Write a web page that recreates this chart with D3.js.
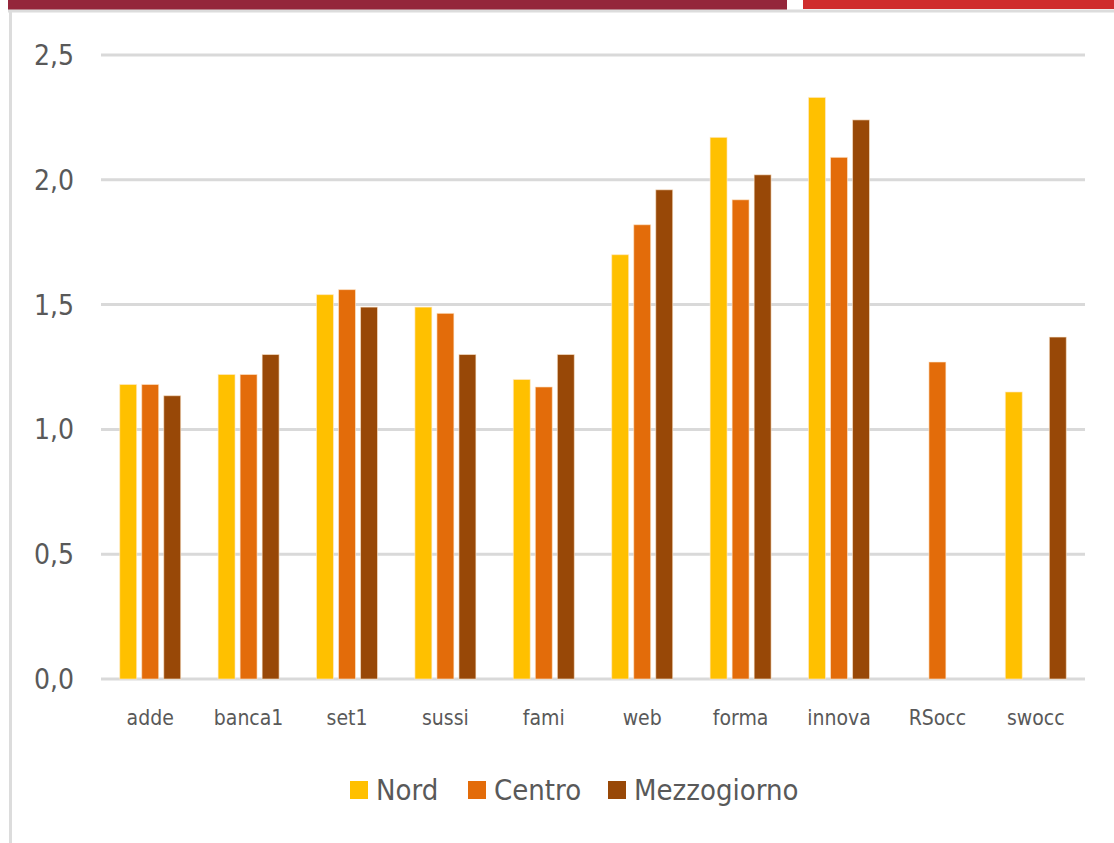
<!DOCTYPE html>
<html>
<head>
<meta charset="utf-8">
<script src="https://cdn.jsdelivr.net/npm/d3@7"></script>
<style>
  body { margin: 0; background: #fff; }
  svg text { font-family: "Liberation Sans Narrow", "DejaVu Sans Condensed", sans-serif; fill: #595959; }
</style>
</head>
<body>
<svg id="chart" width="1114" height="843"></svg>
<script>
const categories = ["adde", "banca1", "set1", "sussi", "fami", "web", "forma", "innova", "RSocc", "swocc"];
const series = ["Nord", "Centro", "Mezzogiorno"];
const nord = [1.18, 1.22, 1.54, 1.49, 1.20, 1.70, 2.17, 2.33, null, 1.15];
const centro = [1.18, 1.22, 1.56, 1.465, 1.17, 1.82, 1.92, 2.09, 1.27, null];
const mezzogiorno = [1.135, 1.30, 1.49, 1.30, 1.30, 1.96, 2.02, 2.24, null, 1.37];
const yTicks = [0, 0.5, 1.0, 1.5, 2.0, 2.5];
const colors = ["#FFC000", "#E36C0A", "#984807"];

const values = { "Nord": nord, "Centro": centro, "Mezzogiorno": mezzogiorno };
const data = [];
categories.forEach((c, i) => {
  series.forEach(s => {
    if (values[s][i] != null) data.push({ cat: c, series: s, value: values[s][i] });
  });
});

const svg = d3.select("#chart");

// page decoration: top bands and frame
svg.append("rect").attr("x", 8).attr("y", 0).attr("width", 779).attr("height", 10).attr("fill", "#94263B");
svg.append("rect").attr("x", 803).attr("y", 0).attr("width", 311).attr("height", 9).attr("fill", "#CF2D2D");
svg.append("line").attr("x1", 8).attr("x2", 1114).attr("y1", 11).attr("y2", 11)
  .attr("stroke", "#dcdcdc").attr("stroke-width", 3);
svg.append("line").attr("x1", 10.5).attr("x2", 10.5).attr("y1", 10).attr("y2", 843)
  .attr("stroke", "#dcdcdc").attr("stroke-width", 3);

const x0 = d3.scaleBand()
  .domain(categories)
  .range([101, 1085])
  .paddingInner(0.38)
  .paddingOuter(0.19);

const x1 = d3.scaleBand()
  .domain(series)
  .range([0, x0.bandwidth()])
  .paddingInner(0.23);

const y = d3.scaleLinear()
  .domain([0, 2.5])
  .range([679, 55]);

const color = d3.scaleOrdinal().domain(series).range(colors);

// gridlines
svg.append("g")
  .selectAll("line")
  .data(yTicks)
  .join("line")
  .attr("x1", 101)
  .attr("x2", 1085)
  .attr("y1", d => y(d))
  .attr("y2", d => y(d))
  .attr("stroke", "#d9d9d9")
  .attr("stroke-width", 3);

// y labels
svg.append("g")
  .selectAll("text")
  .data(yTicks)
  .join("text")
  .attr("x", 74)
  .attr("y", d => y(d))
  .attr("dy", "0.36em")
  .attr("text-anchor", "end")
  .attr("font-size", 28)
  .text(d => d3.format(".1f")(d).replace(".", ","));

// bars
svg.append("g")
  .selectAll("rect")
  .data(data)
  .join("rect")
  .attr("x", d => x0(d.cat) + x1(d.series))
  .attr("y", d => y(d.value))
  .attr("width", x1.bandwidth())
  .attr("height", d => y(0) - y(d.value))
  .attr("fill", d => color(d.series))
  .attr("stroke", "rgba(255,235,210,0.6)")
  .attr("stroke-width", 1);

// x labels
svg.append("g")
  .selectAll("text")
  .data(categories)
  .join("text")
  .attr("x", d => x0(d) + x0.bandwidth() / 2)
  .attr("y", 725)
  .attr("text-anchor", "middle")
  .attr("font-size", 21)
  .text(d => d);

// legend
const legendX = [350, 468, 608];
const legend = svg.append("g")
  .selectAll("g")
  .data(series)
  .join("g")
  .attr("transform", (d, i) => `translate(${legendX[i]}, 781)`);

legend.append("rect")
  .attr("width", 18)
  .attr("height", 18)
  .attr("fill", d => color(d));

legend.append("text")
  .attr("x", 26)
  .attr("y", 19)
  .attr("font-size", 29)
  .text(d => d);
</script>
</body>
</html>
